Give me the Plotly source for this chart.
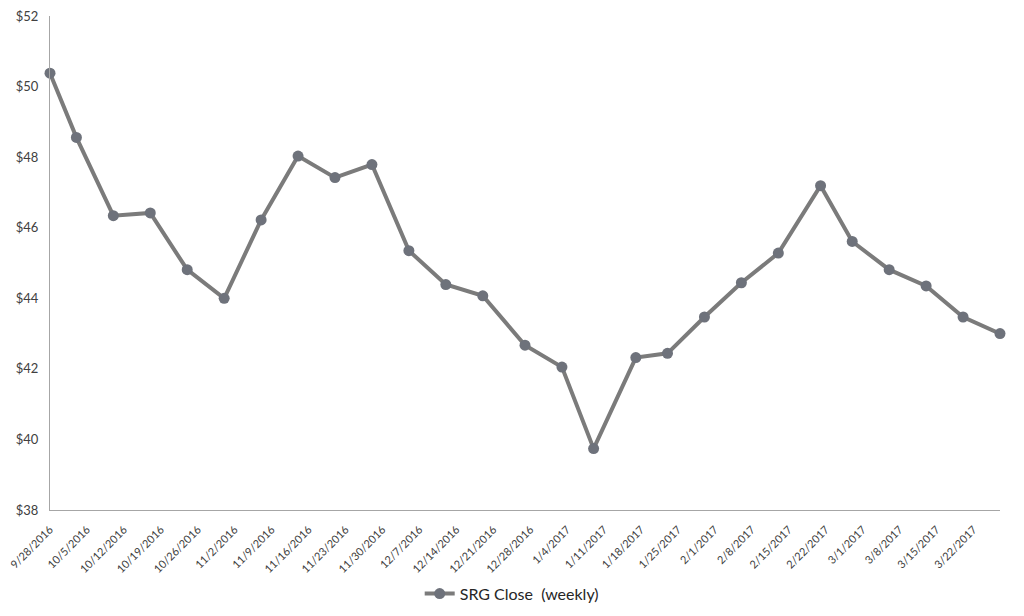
import pandas as pd
import plotly.graph_objects as go

# weekly closes (trading days; holidays shift to Tuesday)
dates = [
    "2016-09-28", "2016-10-03", "2016-10-10", "2016-10-17", "2016-10-24",
    "2016-10-31", "2016-11-07", "2016-11-14", "2016-11-21", "2016-11-28",
    "2016-12-05", "2016-12-12", "2016-12-19", "2016-12-27", "2017-01-03",
    "2017-01-09", "2017-01-17", "2017-01-23", "2017-01-30", "2017-02-06",
    "2017-02-13", "2017-02-21", "2017-02-27", "2017-03-06", "2017-03-13",
    "2017-03-20", "2017-03-27",
]
closes = [
    50.38, 48.56, 46.34, 46.42, 44.81,
    44.00, 46.22, 48.03, 47.42, 47.79,
    45.35, 44.39, 44.07, 42.67, 42.05,
    39.74, 42.32, 42.44, 43.47, 44.44,
    45.28, 47.19, 45.61, 44.81, 44.35,
    43.47, 43.00,
]
series_name = "SRG Close  (weekly)"

# weekly tick dates (Wednesdays) shown on the axis
tick_dates = pd.date_range("2016-09-28", "2017-03-22", freq="7D")
tick_text = [f"{d.month}/{d.day}/{d.year}" for d in tick_dates]
y_ticks = [38, 40, 42, 44, 46, 48, 50, 52]
y_text = [f"${v}" for v in y_ticks]

C_LINE = "#7b7b7b"
C_MARK = "#6e727b"
C_AXIS = "#a6a6a6"
C_TEXT = "#404040"

fig = go.Figure(
    go.Scatter(
        x=pd.to_datetime(dates),
        y=closes,
        mode="lines+markers",
        name=series_name,
        line=dict(color=C_LINE, width=4),
        marker=dict(color=C_MARK, size=11),
        cliponaxis=False,
    )
)

fig.update_layout(
    width=1024,
    height=616,
    paper_bgcolor="white",
    plot_bgcolor="white",
    margin=dict(l=42, r=32, t=8, b=114),
    font=dict(family="Lato, 'Open Sans', sans-serif", color=C_TEXT),
    showlegend=True,
    legend=dict(
        orientation="h",
        x=0.486,
        xanchor="center",
        y=-0.135,
        yanchor="top",
        font=dict(size=16, color="#262626"),
    ),
    xaxis=dict(
        type="date",
        range=[pd.Timestamp("2016-09-28"), pd.Timestamp("2017-03-27")],
        tickvals=tick_dates,
        ticktext=tick_text,
        tickangle=-45,
        tickfont=dict(size=11),
        ticklabeloverflow="allow",
        showgrid=False,
        zeroline=False,
        showline=True,
        linecolor=C_AXIS,
        linewidth=1,
        ticks="outside",
        ticklen=8,
        tickcolor="rgba(0,0,0,0)",
        automargin=False,
    ),
    yaxis=dict(
        range=[38, 52],
        tickvals=y_ticks,
        ticktext=y_text,
        tickfont=dict(size=13),
        ticklabeloverflow="allow",
        showgrid=False,
        zeroline=False,
        showline=True,
        linecolor=C_AXIS,
        linewidth=1,
        ticks="outside",
        ticklen=8,
        tickcolor="rgba(0,0,0,0)",
        automargin=False,
    ),
)

fig.write_html("out.html")
